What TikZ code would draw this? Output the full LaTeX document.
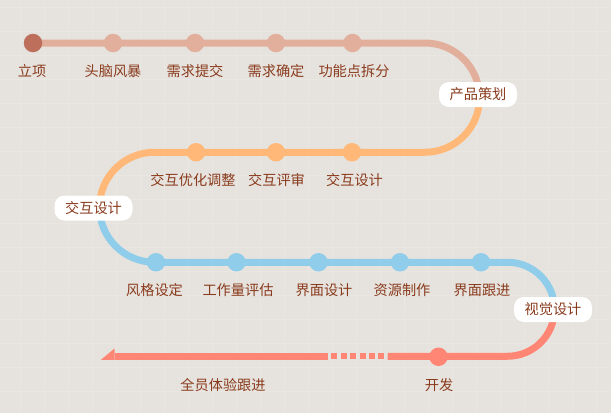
\documentclass[tikz,border=0pt]{standalone}
\usepackage{fontspec}
\setmainfont{Noto Sans CJK SC}
\definecolor{bgc}{HTML}{E6E3DE}
\definecolor{gridc}{HTML}{EAE7E3}
\definecolor{cz}{HTML}{BD6F5B}
\definecolor{ca}{HTML}{E2AF9D}
\definecolor{cb}{HTML}{FFB877}
\definecolor{cc}{HTML}{8FCDEB}
\definecolor{cd}{HTML}{FF8675}
\definecolor{txtc}{HTML}{8A3B1D}
\begin{document}
\begin{tikzpicture}[x=1pt,y=1pt,
  track/.style={line width=7pt},
  dotm/.style={circle, inner sep=0pt, minimum size=18.5pt},
  lbl/.style={text=txtc, font=\fontsize{14.2}{16}\selectfont, inner sep=0pt},
  stagebox/.style={fill=white, rounded corners=10pt, minimum width=78pt, minimum height=25pt, inner sep=0pt, text=txtc, font=\fontsize{14.2}{16}\selectfont}]
\fill[bgc] (0,0) rectangle (611,-413);
\useasboundingbox (0,0) rectangle (611,-413);
\foreach \x in {20,44,...,596} \draw[gridc, line width=0.5pt] (\x,0) -- (\x,-413);
\foreach \y in {7,31,...,403} \draw[gridc, line width=0.5pt] (0,-\y) -- (611,-\y);
% track coordinates
\coordinate (p0) at (33,-43);
\coordinate (p1) at (425,-43);
\coordinate (p2) at (479.5,-97.75);
\coordinate (p3) at (154.5,-152.25);
\coordinate (p4) at (99.5,-207.25);
\coordinate (p5) at (507.5,-262.25);
\coordinate (p6) at (554.5,-309.25);
\coordinate (p7) at (387.5,-356.25);
\coordinate (p8) at (328,-356.25);
\coordinate (p9) at (114.5,-356.25);
\coordinate (tip) at (101,-359.75);
\coordinate (barb) at (114.5,-348.5);
\coordinate (heel) at (114.5,-359.75);
\draw[track, ca] (p0) -- (p1) arc[start angle=90, end angle=0, radius=54.5];
\draw[track, cb] (p2) arc[start angle=0, end angle=-90, radius=54.5] -- (p3) arc[start angle=90, end angle=180, radius=55];
\draw[track, cc] (p4) arc[start angle=180, end angle=270, radius=55] -- (p5) arc[start angle=90, end angle=0, radius=47];
\draw[track, cd] (p6) arc[start angle=0, end angle=-90, radius=47] -- (p7);
\foreach \i in {0,...,5} \fill[cd] (331.4+9.4*\i,-353.25) rectangle ++(6,-6);
\draw[track, cd] (p8) -- (p9);
\fill[cd] (tip) -- (barb) -- (heel) -- cycle;
% dots
\node[dotm, fill=cz] (d1) at (33,-43) {};
\node[dotm, fill=ca] (d2) at (113,-43) {};
\node[dotm, fill=ca] (d3) at (195,-43) {};
\node[dotm, fill=ca] (d4) at (276,-43) {};
\node[dotm, fill=ca] (d5) at (352.5,-43) {};
\node[dotm, fill=cb] (e1) at (196,-152.25) {};
\node[dotm, fill=cb] (e2) at (276,-152.25) {};
\node[dotm, fill=cb] (e3) at (352,-152.25) {};
\node[dotm, fill=cc] (f1) at (156,-262.25) {};
\node[dotm, fill=cc] (f2) at (236.5,-262.25) {};
\node[dotm, fill=cc] (f3) at (318.5,-262.25) {};
\node[dotm, fill=cc] (f4) at (400,-262.25) {};
\node[dotm, fill=cc] (f5) at (481,-262.25) {};
\node[dotm, fill=cd] (g1) at (438.5,-356.75) {};
% labels
\node[lbl] (t1) at (32,-71) {立项};
\node[lbl] (t2) at (113,-71) {头脑风暴};
\node[lbl] (t3) at (195,-71) {需求提交};
\node[lbl] (t4) at (276,-71) {需求确定};
\node[lbl] (t5) at (354,-71) {功能点拆分};
\node[lbl] (u1) at (193,-180) {交互优化调整};
\node[lbl] (u2) at (276.5,-180) {交互评审};
\node[lbl] (u3) at (354.5,-180) {交互设计};
\node[lbl] (v1) at (154.5,-290.5) {风格设定};
\node[lbl] (v2) at (238,-290.5) {工作量评估};
\node[lbl] (v3) at (324,-290.5) {界面设计};
\node[lbl] (v4) at (402,-290.5) {资源制作};
\node[lbl] (v5) at (482,-290.5) {界面跟进};
\node[lbl] (w1) at (223,-385.5) {全员体验跟进};
\node[lbl] (w2) at (439,-385.5) {开发};
% stage boxes
\node[stagebox] (s1) at (478,-94.5) {产品策划};
\node[stagebox] (s2) at (93.5,-208) {交互设计};
\node[stagebox] (s3) at (553,-309.5) {视觉设计};
\end{tikzpicture}
\end{document}
